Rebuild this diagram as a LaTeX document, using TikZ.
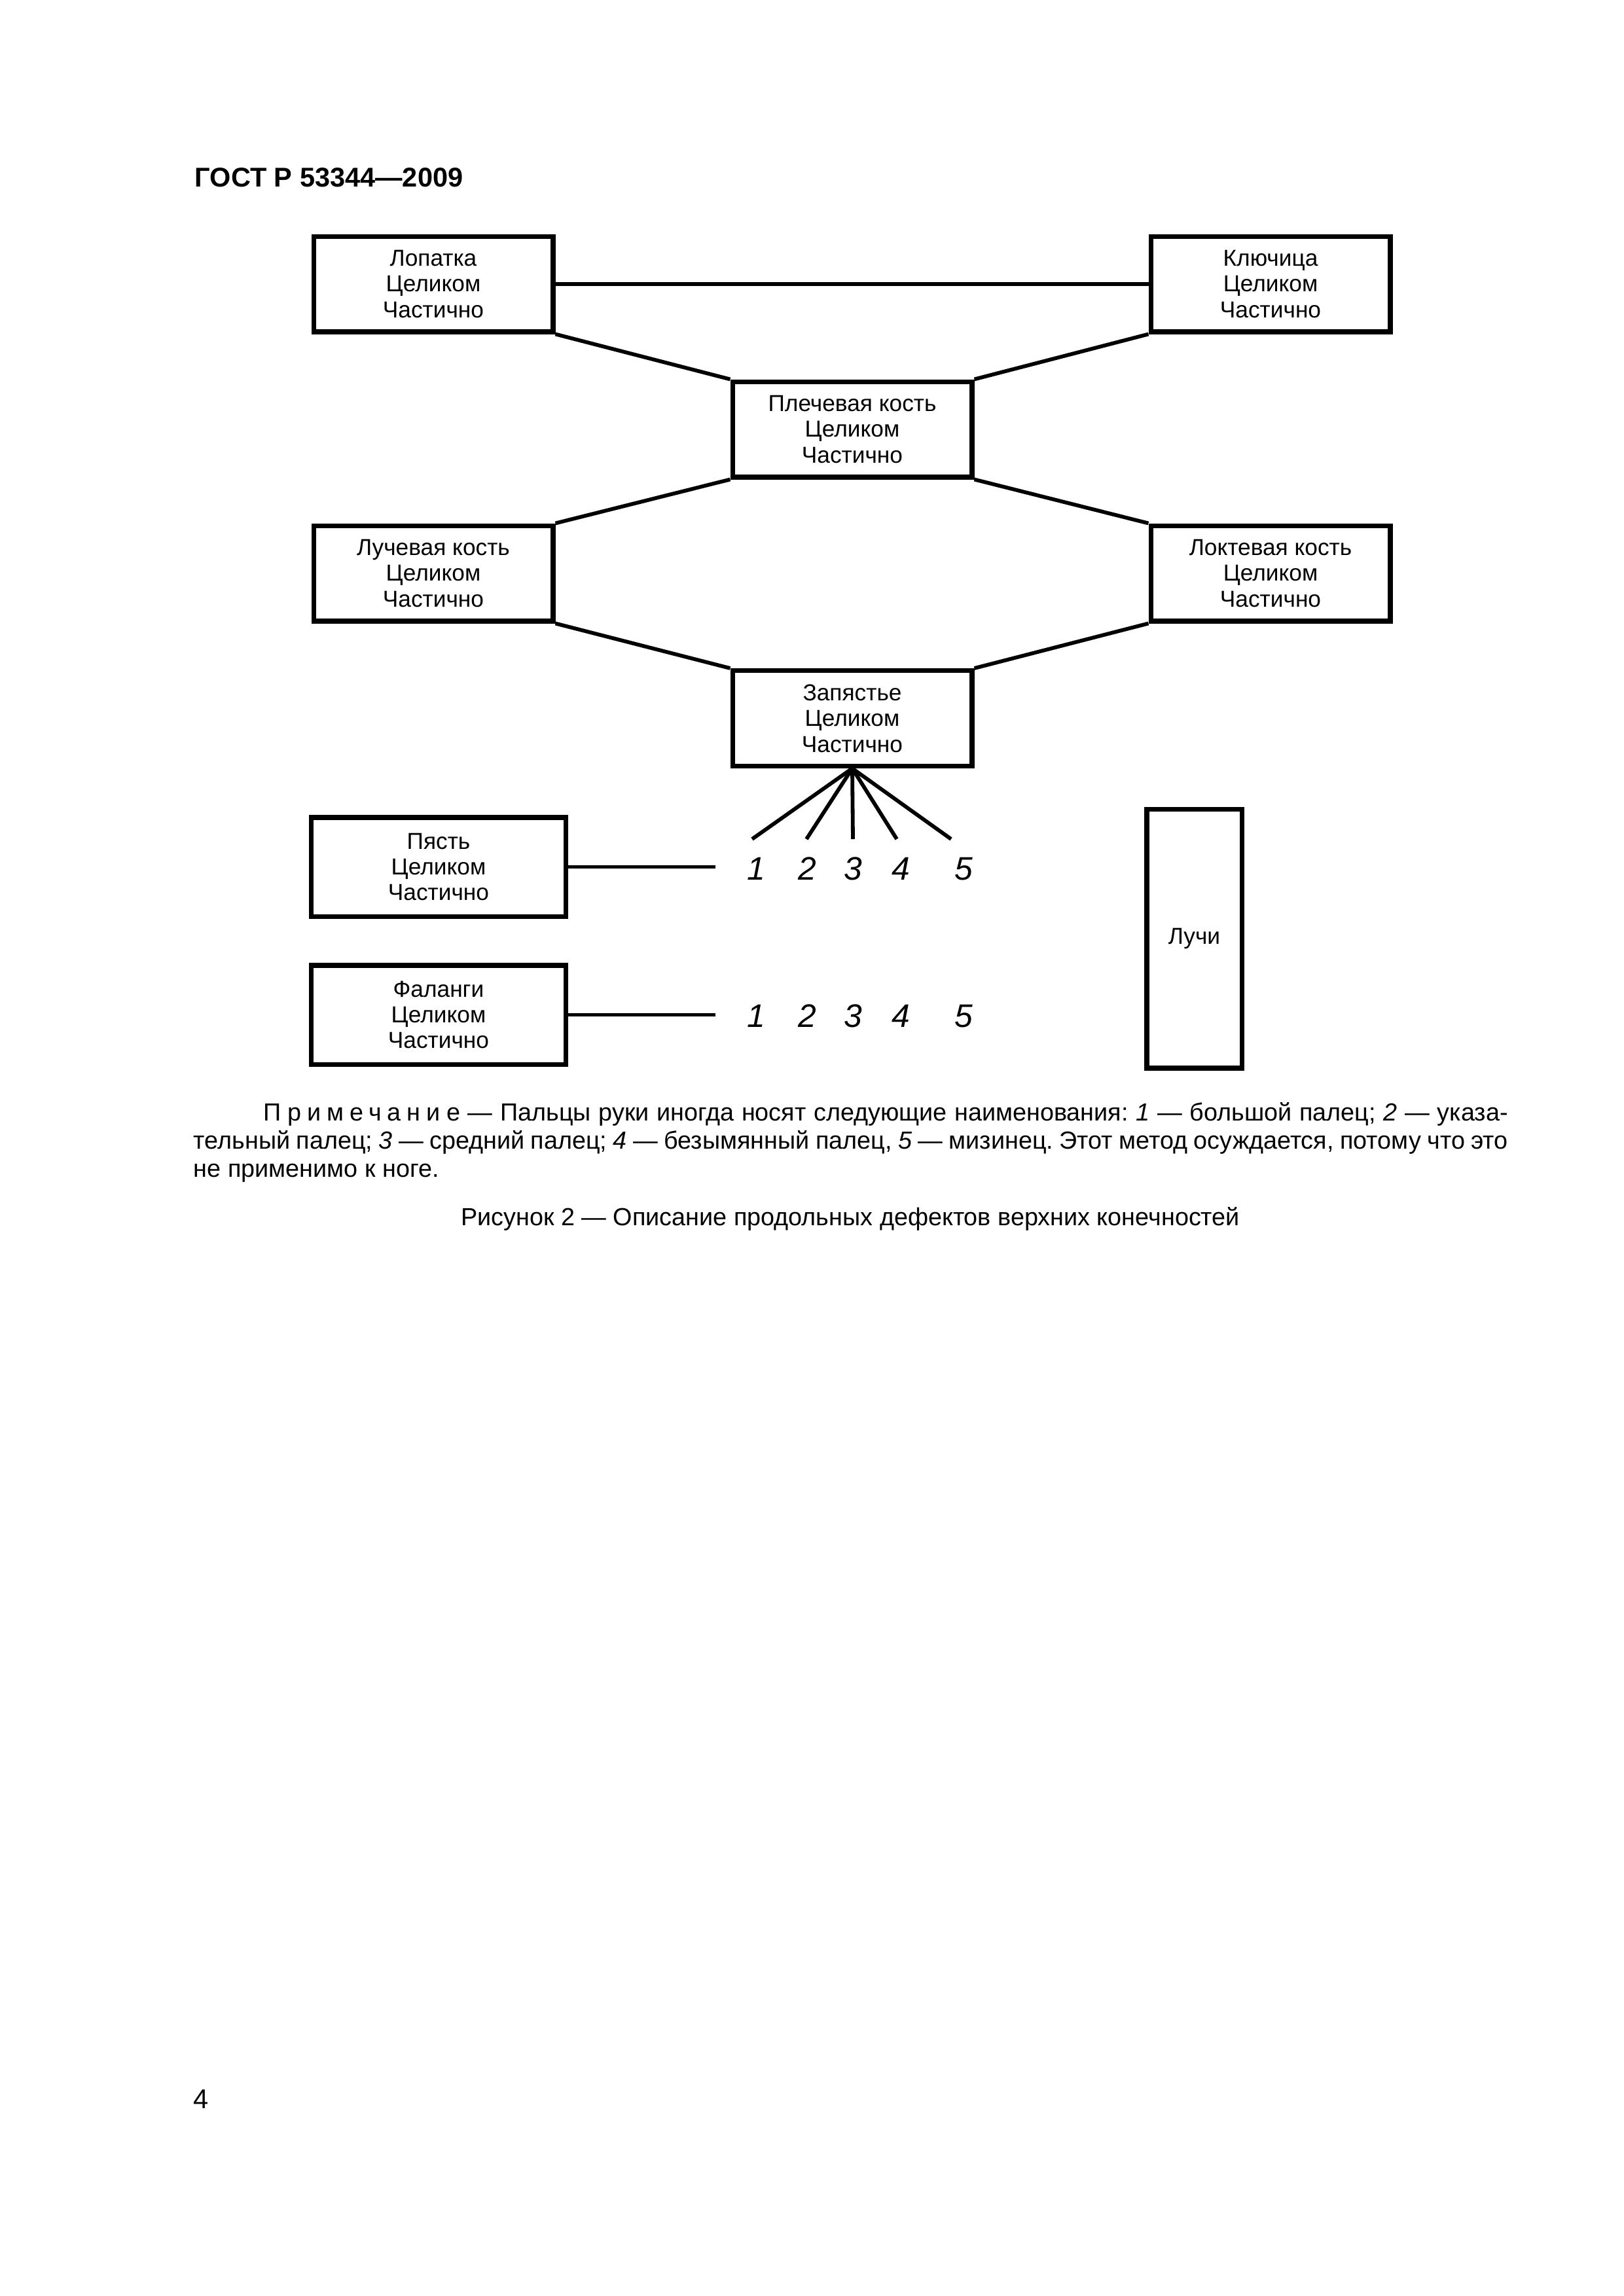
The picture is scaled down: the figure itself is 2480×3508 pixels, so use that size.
\documentclass[tikz,border=0pt]{standalone}
\usepackage{fontspec}
\setmainfont{Liberation Sans}
\usepackage{tikz}
\frenchspacing

\begin{document}
\begin{tikzpicture}
        [%%%%%%%%%%%%%%%%%%%%%%%%%%%%%%
        x=0.0084677cm, y=-0.0084677cm,
        box/.style={draw=black, line width=1.7pt, align=center, inner sep=0pt,
                    font=\fontsize{8.5}{9.5}\selectfont},
        bone/.style={box, minimum width=3.099cm, minimum height=1.236cm},
        wide/.style={box, minimum width=3.302cm, minimum height=1.279cm},
        link/.style={line width=1.4pt},
        digit/.style={font=\fontsize{12}{14}\selectfont\itshape, anchor=base, inner sep=0pt},
        txt/.style={anchor=base west, inner sep=0pt, font=\fontsize{9.1}{11}\selectfont},
        ]%%%%%%%%%%%%%%%%%%%%%%%%%%%%%%
        \useasboundingbox (0,0) rectangle (2480,3508);
        % Header
        \node[txt, font=\fontsize{10}{11}\selectfont\bfseries] (gost) at (297,285) {ГОСТ Р 53344—2009};
        % Bones
        \node[bone] (lopatka) at (662,434) {Лопатка\\Целиком\\Частично};
        \node[bone] (klyuch) at (1941,434) {Ключица\\Целиком\\Частично};
        \node[bone] (plecho) at (1302,656) {Плечевая кость\\Целиком\\Частично};
        \node[bone] (luch) at (662,876) {Лучевая кость\\Целиком\\Частично};
        \node[bone] (lokot) at (1941,876) {Локтевая кость\\Целиком\\Частично};
        \node[bone] (zap) at (1302,1097.5) {Запястье\\Целиком\\Частично};
        \node[wide] (pyast) at (670,1324.5) {Пясть\\Целиком\\Частично};
        \node[wide] (falangi) at (670,1550.5) {Фаланги\\Целиком\\Частично};
        \node[box, minimum width=1.228cm, minimum height=3.353cm] (luchi) at (1824.5,1434) {Лучи};
        % Links
        \draw[link] (lopatka.east) -- (klyuch.west);
        \draw[link] (lopatka.south east) -- (plecho.north west);
        \draw[link] (klyuch.south west) -- (plecho.north east);
        \draw[link] (plecho.south west) -- (luch.north east);
        \draw[link] (plecho.south east) -- (lokot.north west);
        \draw[link] (luch.south east) -- (zap.north west);
        \draw[link] (lokot.south west) -- (zap.north east);
        \foreach \x [count=\i] in {1149,1232,1303,1370,1453}{
          % Fan to the fingers
          \coordinate (f\i) at (\x,1282);
          \draw[link] (zap.south) -- (f\i);
        }
        \foreach \x [count=\i] in {1155,1233,1303,1376,1472}{
          \node[digit] (p\i) at (\x,1344) {\i};
          \node[digit] (ph\i) at (\x,1569) {\i};
        }
        \coordinate (pend) at (1093,1324.5);
        \coordinate (fend) at (1093,1550.5);
        \draw[link] (pyast.east) -- (pend);
        \draw[link] (falangi.east) -- (fend);
        % Text 
        \node[txt] (note1) at (402,1712) {\makebox[458pt][s]{{\addfontfeature{LetterSpace=24}Примечание} — Пальцы руки иногда носят следующие наименования: \textit{1} — большой палец; \textit{2} — указа-}};
        \node[txt] (note2) at (295,1755) {\makebox[483.8pt][s]{тельный палец; \textit{3} — средний палец; \textit{4} — безымянный палец, \textit{5} — мизинец. Этот метод осуждается, потому что это}};
        \node[txt] (note3) at (295,1798) {не применимо к ноге.};
        \node[txt, anchor=base] (caption) at (1299,1872) {Рисунок 2 — Описание продольных дефектов верхних конечностей};
        \node[txt, font=\fontsize{10}{11}\selectfont] (page) at (295,3221) {4};
      \end{tikzpicture}
\end{document}
